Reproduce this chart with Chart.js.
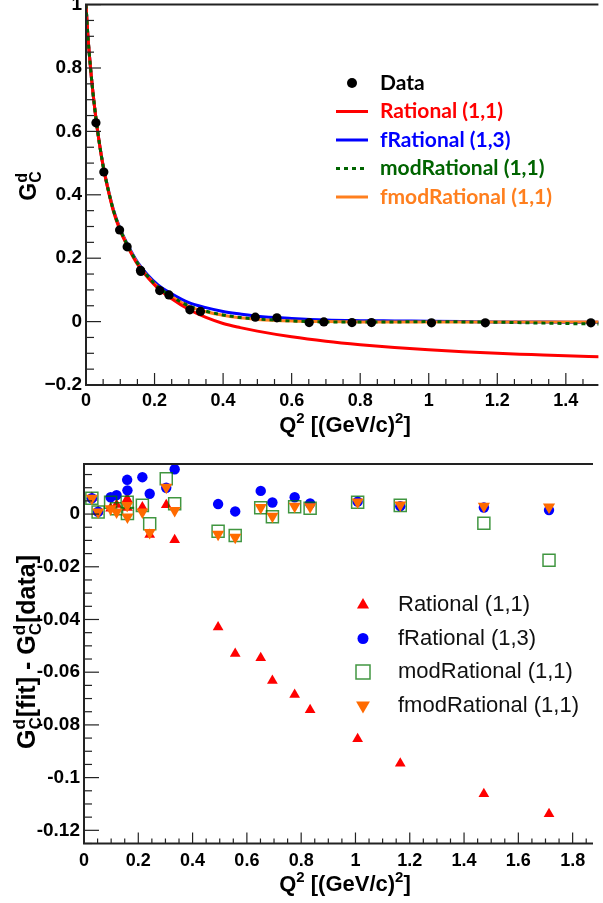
<!DOCTYPE html>
<html>
<head>
<meta charset="utf-8">
<script src="https://cdn.jsdelivr.net/npm/chart.js@4"></script>
<style>
  body { margin: 0; background: #fff; width: 603px; height: 903px; overflow: hidden; }
  canvas { position: absolute; left: 0; }
  #top { top: 0; }
  #bot { top: 440px; }
</style>
</head>
<body>
<canvas id="top" width="603" height="440"></canvas>
<canvas id="bot" width="603" height="463"></canvas>
<script>
// measured points: Q^2 in (GeV/c)^2
const q2 = [0.029, 0.052, 0.098, 0.120, 0.159, 0.160, 0.215, 0.242, 0.303, 0.334,
            0.494, 0.557, 0.651, 0.694, 0.776, 0.833, 1.008, 1.165, 1.473, 1.713];
const gcData = [0.627, 0.472, 0.289, 0.236, 0.162, 0.158, 0.098, 0.084, 0.037, 0.032,
                0.014, 0.012, -0.003, -0.001, -0.003, -0.003, -0.004, -0.004, -0.004];

const curveQ2 = [0, 0.005, 0.01, 0.02, 0.03, 0.04, 0.05, 0.06, 0.08, 0.10, 0.12, 0.15, 0.18, 0.21, 0.25,
                 0.30, 0.35, 0.40, 0.45, 0.50, 0.60, 0.70, 0.80, 0.90, 1.00, 1.10, 1.20, 1.30, 1.40, 1.50];
const ratFit  = [1.0, 0.91, 0.84, 0.725, 0.633, 0.555, 0.49, 0.437, 0.348, 0.286, 0.240, 0.181, 0.139, 0.105, 0.072,
                 0.038, 0.013, -0.006, -0.019, -0.030, -0.048, -0.062, -0.073, -0.082, -0.089, -0.095, -0.100, -0.104, -0.108, -0.111];
const fratFit = [1.0, 0.91, 0.84, 0.725, 0.633, 0.556, 0.492, 0.440, 0.353, 0.292, 0.246, 0.188, 0.147, 0.116, 0.088,
                 0.060, 0.044, 0.032, 0.024, 0.017, 0.010, 0.005, 0.003, 0.002, 0.001, 0.000, -0.001, -0.001, -0.002, -0.002];
const modFit  = [1.0, 0.91, 0.84, 0.725, 0.633, 0.556, 0.491, 0.439, 0.351, 0.290, 0.243, 0.185, 0.143, 0.110, 0.079,
                 0.050, 0.033, 0.021, 0.013, 0.008, 0.002, -0.001, -0.001, -0.001, 0.000, -0.001, -0.002, -0.004, -0.006, -0.008];
const fmodFit = [1.0, 0.91, 0.84, 0.725, 0.633, 0.556, 0.491, 0.439, 0.351, 0.290, 0.243, 0.185, 0.142, 0.109, 0.078,
                 0.048, 0.031, 0.020, 0.012, 0.007, 0.002, 0.000, -0.001, -0.001, -0.001, -0.001, -0.001, -0.001, -0.001, -0.001];

// residuals G[fit] - G[data], one per q2
const resRat  = [0.0062, 0.0010, 0.0022, 0.0036, 0.0058, 0.0024, 0.0026, -0.0078, 0.0035, -0.0098,
                 -0.0429, -0.0530, -0.0546, -0.0632, -0.0685, -0.0743, -0.0853, -0.0946, -0.1062, -0.1138];
const resFrat = [0.0060, 0.0009, 0.0064, 0.0072, 0.0130, 0.0090, 0.0140, 0.0077, 0.0100, 0.0170,
                 0.0038, 0.0010, 0.0088, 0.0044, 0.0064, 0.0040, 0.0047, 0.0030, 0.0025, 0.0015];
const resMod  = [0.0060, 0.0008, 0.0045, 0.0020, 0.0045, 0.0002, 0.0033, -0.0037, 0.0134, 0.0039,
                 -0.0065, -0.0081, 0.0024, -0.0010, 0.0028, 0.0022, 0.0045, 0.0033, -0.0035, -0.0175];
const resFmod = [0.0060, 0.0008, 0.0020, 0.0008, 0.0033, -0.0011, 0.0008, -0.0070, 0.0102, 0.0014,
                 -0.0077, -0.0088, 0.0025, -0.0008, 0.0030, 0.0028, 0.0046, 0.0034, 0.0030, 0.0027];

const topXTicks = [0, 0.2, 0.4, 0.6, 0.8, 1, 1.2, 1.4];
const topYTicks = [-0.2, 0, 0.2, 0.4, 0.6, 0.8, 1];
const botXTicks = [0, 0.2, 0.4, 0.6, 0.8, 1, 1.2, 1.4, 1.6, 1.8];
const botYTicks = [-0.12, -0.1, -0.08, -0.06, -0.04, -0.02, 0];

const labels = ['Rational (1,1)', 'fRational (1,3)', 'modRational (1,1)', 'fmodRational (1,1)'];

const red = '#ff0000', blue = '#0000ff', green = '#006400', orange = '#ff7f1e';
const sqGreen = 'rgba(0,115,0,0.75)', triOrange = '#ff6a00';
const axisColor = '#222';
const FONT = 'Liberation Sans';

function pts(xs, ys) {
  return ys.map((v, i) => ({ x: xs[i], y: v }));
}

function lineDS(label, values, color, dash, order) {
  return {
    label, data: pts(curveQ2, values), showLine: true, pointRadius: 0,
    borderColor: color, borderWidth: 3, borderDash: dash,
    cubicInterpolationMode: 'monotone', order
  };
}

function fmt(minus) {
  return v => {
    const s = String(+(+v).toFixed(4));
    return s.startsWith('-') ? minus + s.slice(1) : s;
  };
}

function xAxis(min, max, ticks, height, pad) {
  return {
    type: 'linear', min, max,
    grid: { display: false, drawTicks: false }, border: { display: false },
    ticks: { font: { family: FONT, weight: 'bold', size: 18 }, color: '#000', padding: pad,
             maxRotation: 0, autoSkip: false, callback: fmt('-') },
    afterBuildTicks: s => { s.ticks = ticks.map(v => ({ value: v })); },
    afterFit: s => { s.height = height; s.paddingLeft = 0; s.paddingRight = 0; }
  };
}

function yAxis(min, max, ticks, width, minus) {
  return {
    type: 'linear', min, max,
    grid: { display: false, drawTicks: false }, border: { display: false },
    ticks: { font: { family: FONT, weight: 'bold', size: 19 }, color: '#000', padding: 4,
             autoSkip: false, callback: fmt(minus) },
    afterBuildTicks: s => { s.ticks = ticks.map(v => ({ value: v })); },
    afterFit: s => { s.width = width; s.paddingTop = 0; s.paddingBottom = 0; }
  };
}

// text with stacked sub/superscripts, centred on (cx, cy)
function richText(ctx, parts, cx, cy, angle, size) {
  const small = Math.round(size * 0.68);
  const f = s => `bold ${s}px ${FONT}`;
  ctx.save();
  ctx.translate(cx, cy);
  ctx.rotate(angle);
  let w = 0;
  const items = parts.map(p => {
    let pw;
    if (p.t !== undefined) { ctx.font = f(size); pw = ctx.measureText(p.t).width; }
    else {
      ctx.font = f(small);
      pw = Math.max(p.sup ? ctx.measureText(p.sup).width : 0, p.sub ? ctx.measureText(p.sub).width : 0);
    }
    w += pw;
    return Object.assign({ w: pw }, p);
  });
  ctx.fillStyle = '#000';
  ctx.textAlign = 'left';
  ctx.textBaseline = 'alphabetic';
  let x = -w / 2;
  const by = size * 0.36;
  for (const it of items) {
    if (it.t !== undefined) { ctx.font = f(size); ctx.fillText(it.t, x, by); }
    else {
      ctx.font = f(small);
      if (it.sup) ctx.fillText(it.sup, x, by - size * 0.42);
      if (it.sub) ctx.fillText(it.sub, x, by + size * 0.22);
    }
    x += it.w;
  }
  ctx.restore();
}

function marker(ctx, kind, x, y, r, color) {
  ctx.save();
  ctx.fillStyle = color;
  ctx.strokeStyle = color;
  ctx.beginPath();
  if (kind === 'circle') { ctx.arc(x, y, r, 0, Math.PI * 2); ctx.fill(); }
  else if (kind === 'up') {
    ctx.moveTo(x, y - r); ctx.lineTo(x + r * 0.866, y + r * 0.5); ctx.lineTo(x - r * 0.866, y + r * 0.5);
    ctx.closePath(); ctx.fill();
  } else if (kind === 'down') {
    ctx.moveTo(x, y + r); ctx.lineTo(x + r * 0.866, y - r * 0.5); ctx.lineTo(x - r * 0.866, y - r * 0.5);
    ctx.closePath(); ctx.fill();
  } else if (kind === 'square') {
    ctx.lineWidth = 1.5; ctx.strokeRect(x - r, y - r, 2 * r, 2 * r);
  }
  ctx.restore();
}

function decor(o) {
  return {
    id: 'decor',
    afterDraw(chart) {
      const ctx = chart.ctx, a = chart.chartArea, xs = chart.scales.x, ys = chart.scales.y;
      ctx.save();
      ctx.strokeStyle = axisColor;
      ctx.lineWidth = 1.2;
      const isMajor = (v, arr) => arr.some(t => Math.abs(t - v) < 1e-7);
      // y ticks, pointing into the frame
      let k0 = Math.ceil(ys.min / o.yMinor - 1e-6), k1 = Math.floor(ys.max / o.yMinor + 1e-6);
      for (let k = k0; k <= k1; k++) {
        const v = k * o.yMinor, py = ys.getPixelForValue(v);
        const len = isMajor(v, o.yTicks) ? o.yLen[0] : o.yLen[1];
        ctx.beginPath(); ctx.moveTo(a.left, py); ctx.lineTo(a.left + len, py); ctx.stroke();
      }
      k0 = Math.ceil(xs.min / o.xMinor - 1e-6); k1 = Math.floor(xs.max / o.xMinor + 1e-6);
      for (let k = k0; k <= k1; k++) {
        const v = k * o.xMinor, px = xs.getPixelForValue(v);
        const len = isMajor(v, o.xTicks) ? o.xLen[0] : o.xLen[1];
        ctx.beginPath(); ctx.moveTo(px, a.bottom); ctx.lineTo(px, a.bottom - len); ctx.stroke();
      }
      // frame
      ctx.lineWidth = 2;
      ctx.beginPath();
      ctx.moveTo(a.right, a.top); ctx.lineTo(a.left, a.top);
      ctx.lineTo(a.left, a.bottom); ctx.lineTo(a.right, a.bottom);
      ctx.stroke();
      ctx.restore();
      o.extra(ctx, chart);
    }
  };
}

const baseOpts = {
  responsive: false, animation: false, devicePixelRatio: 1,
  plugins: { legend: { display: false }, tooltip: { enabled: false } }
};

// ---------- top panel: G_C^d vs Q^2 ----------
new Chart(document.getElementById('top'), {
  type: 'scatter',
  data: {
    datasets: [
      { label: 'Data', data: pts(q2, gcData), pointRadius: 4.6, pointBackgroundColor: '#000',
        pointBorderColor: '#000', pointBorderWidth: 0, order: 0 },
      lineDS(labels[2], modFit, green, [4, 4], 1),
      lineDS(labels[0], ratFit, red, [], 2),
      lineDS(labels[3], fmodFit, orange, [], 3),
      lineDS(labels[1], fratFit, blue, [], 4)
    ]
  },
  options: Object.assign({}, baseOpts, {
    layout: { padding: { top: 4, left: 0, right: 0, bottom: 0 } },
    scales: { x: xAxis(0, 1.495, topXTicks, 55, 5), y: yAxis(-0.2, 1, topYTicks, 86, '\u2212') }
  }),
  plugins: [decor({
    xTicks: topXTicks, yTicks: topYTicks, xMinor: 0.05, yMinor: 0.05, xLen: [12, 6], yLen: [15, 8],
    extra(ctx) {
      const rows = [
        { t: 'Data', c: '#000', k: 'dot' },
        { t: labels[0], c: red, k: 'line' },
        { t: labels[1], c: blue, k: 'line' },
        { t: labels[2], c: green, k: 'dash' },
        { t: labels[3], c: orange, k: 'line' }
      ];
      ctx.save();
      ctx.font = 'bold 21px Lato';
      ctx.textBaseline = 'middle';
      rows.forEach((r, i) => {
        const y = 83 + i * 28.5;
        if (r.k === 'dot') marker(ctx, 'circle', 352, y, 5, '#000');
        else {
          ctx.strokeStyle = r.c; ctx.lineWidth = 3;
          ctx.setLineDash(r.k === 'dash' ? [4, 4] : []);
          ctx.beginPath(); ctx.moveTo(336, y); ctx.lineTo(368, y); ctx.stroke();
          ctx.setLineDash([]);
        }
        ctx.fillStyle = r.c;
        ctx.fillText(r.t, 380, y);
      });
      ctx.restore();
      richText(ctx, [{ t: 'Q' }, { sup: '2' }, { t: ' [(GeV/c)' }, { sup: '2' }, { t: ']' }], 345, 424, 0, 22);
      richText(ctx, [{ t: 'G' }, { sup: 'd', sub: 'C' }], 28, 186, -Math.PI / 2, 23);
    }
  })]
});

// ---------- bottom panel: residuals ----------
new Chart(document.getElementById('bot'), {
  type: 'scatter',
  data: {
    datasets: [
      { label: labels[3], data: pts(q2, resFmod), pointStyle: 'triangle', rotation: 180, pointRadius: 7,
        pointBackgroundColor: triOrange, pointBorderColor: triOrange, pointBorderWidth: 0, order: 0 },
      { label: labels[2], data: pts(q2, resMod), pointStyle: 'rect', pointRadius: 8.5,
        pointBackgroundColor: 'rgba(0,0,0,0)', pointBorderColor: sqGreen, pointBorderWidth: 1.5, order: 1 },
      { label: labels[1], data: pts(q2, resFrat), pointStyle: 'circle', pointRadius: 5.2,
        pointBackgroundColor: blue, pointBorderColor: blue, pointBorderWidth: 0, order: 2 },
      { label: labels[0], data: pts(q2, resRat), pointStyle: 'triangle', pointRadius: 6.2,
        pointBackgroundColor: red, pointBorderColor: red, pointBorderWidth: 0, order: 3 }
    ]
  },
  options: Object.assign({}, baseOpts, {
    layout: { padding: { top: 24, left: 0, right: 0, bottom: 0 } },
    scales: { x: xAxis(0, 1.875, botXTicks, 59.5, 7), y: yAxis(-0.125, 0.019, botYTicks, 84, '-') }
  }),
  plugins: [decor({
    xTicks: botXTicks, yTicks: botYTicks, xMinor: 0.05, yMinor: 0.005, xLen: [11, 5], yLen: [15, 8],
    extra(ctx) {
      const rows = [
        { k: 'up', c: red, r: 7 }, { k: 'circle', c: blue, r: 5.5 },
        { k: 'square', c: sqGreen, r: 7 }, { k: 'down', c: triOrange, r: 8 }
      ];
      ctx.save();
      ctx.font = `22px ${FONT}`;
      ctx.textBaseline = 'middle';
      ctx.fillStyle = '#111';
      rows.forEach((r, i) => {
        const y = 165 + i * 33.5;
        marker(ctx, r.k, 363, y, r.r, r.c);
        ctx.fillStyle = '#111';
        ctx.fillText(labels[i], 398, y);
      });
      ctx.restore();
      richText(ctx, [{ t: 'Q' }, { sup: '2' }, { t: ' [(GeV/c)' }, { sup: '2' }, { t: ']' }], 345, 443, 0, 22);
      richText(ctx, [{ t: 'G' }, { sup: 'd', sub: 'C' }, { t: '[fit] - G' }, { sup: 'd', sub: 'C' }, { t: '[data]' }],
               26, 212, -Math.PI / 2, 25);
    }
  })]
});
</script>
</body>
</html>
